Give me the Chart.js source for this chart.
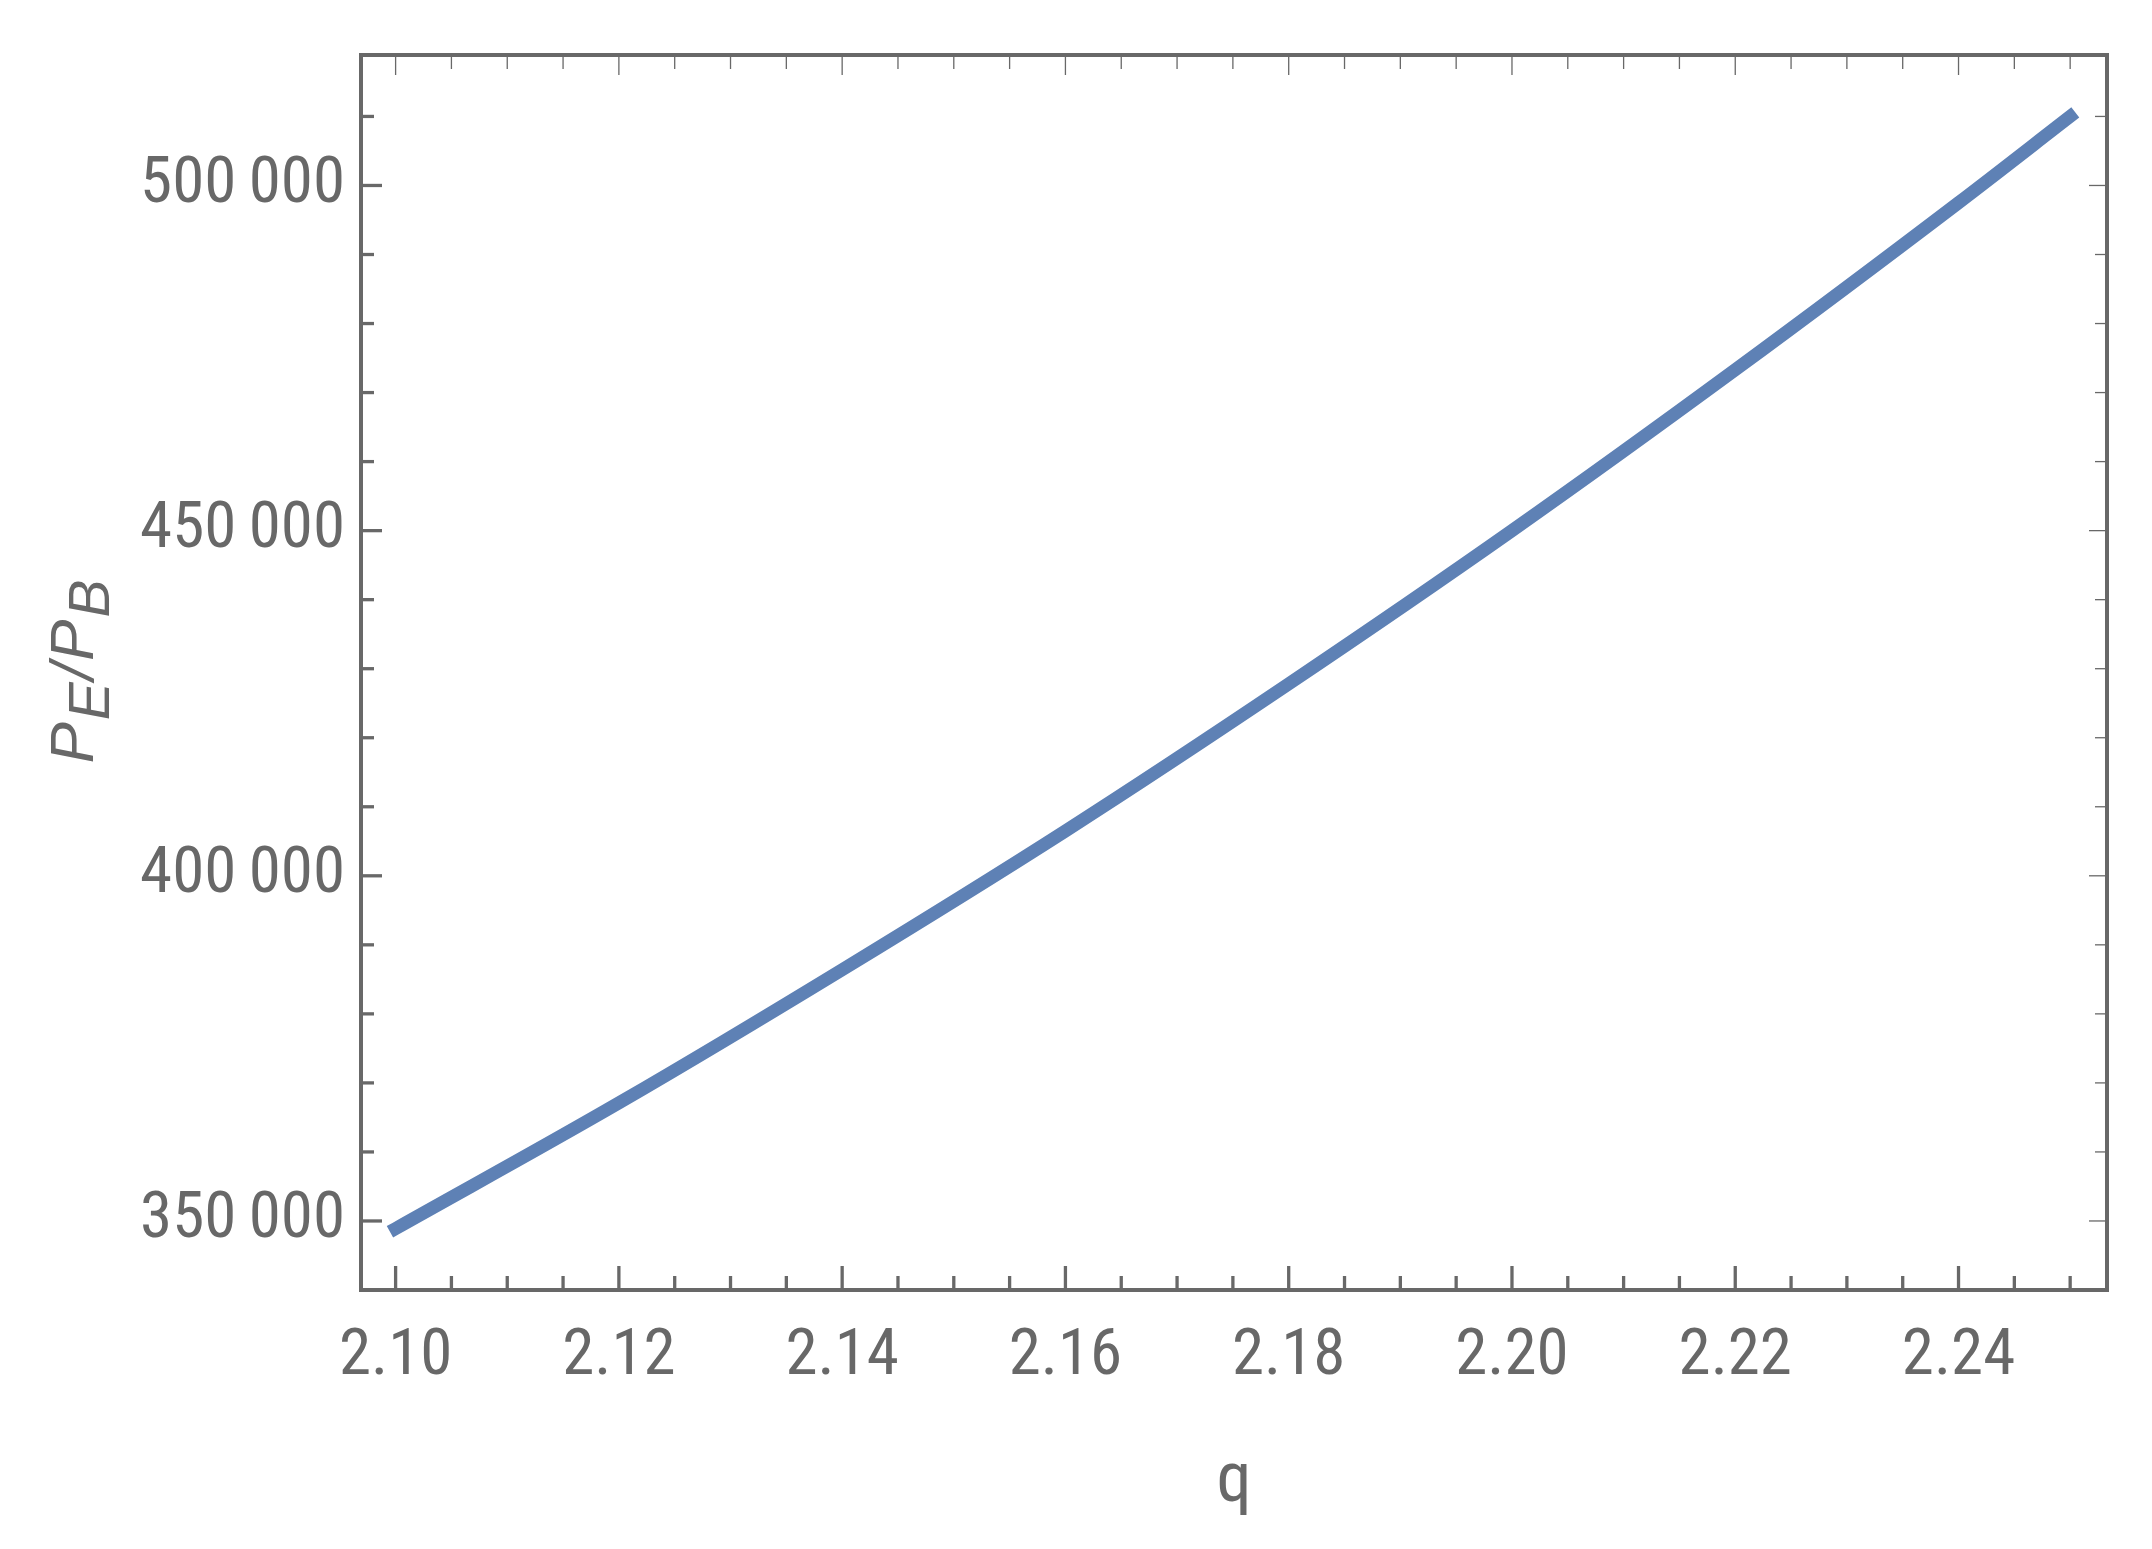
<!DOCTYPE html>
<html>
<head>
<meta charset="utf-8">
<script src="https://cdn.jsdelivr.net/npm/chart.js@4/dist/chart.umd.min.js"></script>
<style>
  html, body { margin: 0; padding: 0; background: #ffffff; }
  #wrap { width: 2152px; height: 1549px; }
</style>
</head>
<body>
<div id="wrap"><canvas id="c" width="2152" height="1549"></canvas></div>
<script>
// ---- data ----
const qValues = [2.10, 2.12, 2.14, 2.16, 2.18, 2.20, 2.22, 2.24, 2.25];
const ratioValues = [348900, 367100, 386400, 406500, 427800, 450000, 473300, 497500, 510000];

// ---- axis ticks ----
const xTickValues = [2.10, 2.12, 2.14, 2.16, 2.18, 2.20, 2.22, 2.24];
const xTickLabels = ['2.10', '2.12', '2.14', '2.16', '2.18', '2.20', '2.22', '2.24'];
const xMinorTickValues = [2.105, 2.11, 2.115, 2.125, 2.13, 2.135, 2.145, 2.15, 2.155, 2.165, 2.17, 2.175,
  2.185, 2.19, 2.195, 2.205, 2.21, 2.215, 2.225, 2.23, 2.235, 2.245, 2.25];
const yTickValues = [350000, 400000, 450000, 500000];
const yTickLabels = ['350\u2009000', '400\u2009000', '450\u2009000', '500\u2009000'];
const yMinorTickValues = [360000, 370000, 380000, 390000, 410000, 420000, 430000, 440000,
  460000, 470000, 480000, 490000, 510000];

const xAxisTitle = 'q';
const yAxisTitleParts = [['P', false], ['E', true], ['/', false], ['P', false], ['B', true]];

const GREY = '#686868';
const LABEL_FONT = "'Roboto Condensed', 'Liberation Sans Narrow', 'Arial Narrow', 'DejaVu Sans Condensed', sans-serif";

const framePlugin = {
  id: 'frameTicks',
  afterDraw(chart) {
    const ctx = chart.ctx;
    const a = chart.chartArea;
    const xs = chart.scales.x, ys = chart.scales.y;
    ctx.save();
    ctx.strokeStyle = GREY;
    const tick = (x1, y1, x2, y2, w) => {
      ctx.lineWidth = w;
      ctx.beginPath(); ctx.moveTo(x1, y1); ctx.lineTo(x2, y2); ctx.stroke();
    };
    xTickValues.forEach(v => {
      const x = xs.getPixelForValue(v);
      tick(x, a.bottom, x, a.bottom - 24, 3.3);
      tick(x, a.top, x, a.top + 20, 1.3);
    });
    xMinorTickValues.forEach(v => {
      const x = xs.getPixelForValue(v);
      tick(x, a.bottom, x, a.bottom - 14, 3.3);
      tick(x, a.top, x, a.top + 14, 1.3);
    });
    yTickValues.forEach(v => {
      const y = ys.getPixelForValue(v);
      tick(a.left, y, a.left + 21, y, 3.3);
      tick(a.right, y, a.right - 18, y, 1.3);
    });
    yMinorTickValues.forEach(v => {
      const y = ys.getPixelForValue(v);
      tick(a.left, y, a.left + 13, y, 3.3);
      tick(a.right, y, a.right - 12, y, 1.3);
    });
    ctx.lineWidth = 4;
    ctx.strokeRect(a.left, a.top, a.right - a.left, a.bottom - a.top);

    // y-axis title with subscripts, rotated
    ctx.fillStyle = GREY;
    ctx.textBaseline = 'alphabetic';
    ctx.textAlign = 'left';
    const midY = (a.top + a.bottom) / 2 - 2;
    const mainFont = "italic 62px 'Liberation Sans', sans-serif";
    const subFont = "italic 57px 'Liberation Sans', sans-serif";
    let total = 0;
    const widths = yAxisTitleParts.map(([t, sub]) => {
      ctx.font = sub ? subFont : mainFont;
      const w = ctx.measureText(t).width + 2;
      total += w;
      return w;
    });
    ctx.translate(93, midY + total / 2);
    ctx.rotate(-Math.PI / 2);
    let px = 0;
    yAxisTitleParts.forEach(([t, sub], i) => {
      ctx.font = sub ? subFont : mainFont;
      ctx.fillText(t, px, sub ? 16 : 0);
      px += widths[i];
    });
    ctx.restore();
  }
};

new Chart(document.getElementById('c'), {
  type: 'line',
  data: {
    datasets: [{
      data: qValues.map((q, i) => ({ x: q, y: ratioValues[i] })),
      borderColor: '#5e81b5',
      borderWidth: 13,
      borderCapStyle: 'square',
      pointRadius: 0,
      fill: false,
      cubicInterpolationMode: 'monotone'
    }]
  },
  options: {
    responsive: false,
    animation: false,
    devicePixelRatio: 1,
    layout: { padding: { top: 50, right: 45, bottom: 0, left: 0 } },
    plugins: { legend: { display: false }, tooltip: { enabled: false } },
    scales: {
      x: {
        type: 'linear',
        min: 2.0969,
        max: 2.2533,
        grid: { display: false, drawTicks: false },
        border: { display: false },
        afterBuildTicks: s => { s.ticks = xTickValues.map(v => ({ value: v })); },
        afterFit: s => { s.height = 259; },
        ticks: {
          autoSkip: false,
          maxRotation: 0,
          padding: 29,
          color: GREY,
          font: { family: LABEL_FONT, size: 65 },
          callback: (v, i) => xTickLabels[i]
        },
        title: {
          display: true,
          text: xAxisTitle,
          color: GREY,
          font: { family: LABEL_FONT, size: 70 },
          padding: { top: 0, bottom: 24 }
        }
      },
      y: {
        type: 'linear',
        min: 340000,
        max: 518900,
        grid: { display: false, drawTicks: false },
        border: { display: false },
        afterBuildTicks: s => { s.ticks = yTickValues.map(v => ({ value: v })); },
        afterFit: s => { s.width = 361; },
        ticks: {
          padding: 16,
          color: GREY,
          font: { family: LABEL_FONT, size: 65 },
          callback: (v, i) => yTickLabels[i]
        }
      }
    }
  },
  plugins: [framePlugin]
});
</script>
</body>
</html>
